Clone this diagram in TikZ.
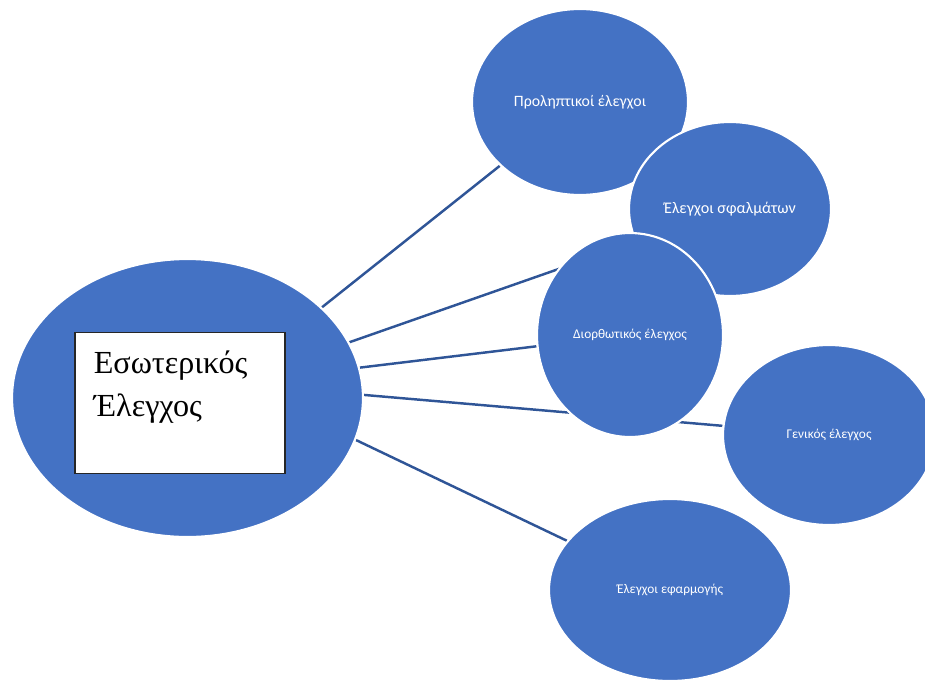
\documentclass[tikz,border=0pt]{standalone}
\usepackage{fontspec}
\setmainfont{Liberation Serif}
\newfontfamily\labelfont{Carlito}
\usetikzlibrary{shapes.geometric,backgrounds}
\definecolor{ovalblue}{HTML}{4472C4}
\definecolor{linkblue}{HTML}{2F5597}
\begin{document}
\begin{tikzpicture}[
    x=0.02cm, y=-0.02cm,
    oval/.style={ellipse, fill=ovalblue, draw=white, line width=1.2pt, inner sep=0pt, text=white, font=\labelfont},
    link/.style={linkblue, line width=1.4pt}
]
    \useasboundingbox (0,0) rectangle (925,679);

    % --- CENTRAL NODE ---
    \node[oval, minimum width=7.02cm, minimum height=5.56cm] (main) at (187.5,398) {};
    \node[draw=black!85, fill=white, line width=0.6pt, minimum width=4.2cm, minimum height=2.82cm] (box) at (180,403) {};
    \node[anchor=north west, align=left, inner sep=0pt, font=\fontsize{18.3}{24.5}\selectfont] (title) at ([xshift=0.38cm, yshift=-0.36cm]box.north west) {Εσωτερικός\\Έλεγχος};

    % --- SURROUNDING NODES ---
    \node[oval, minimum width=4.32cm, minimum height=3.72cm, font=\labelfont\fontsize{9}{11}\selectfont] (pro) at (580,102) {Προληπτικοί έλεγχοι};
    \node[oval, minimum width=4.04cm, minimum height=3.48cm, font=\labelfont\fontsize{9.2}{11}\selectfont] (sfal) at (730,209) {Έλεγχοι σφαλμάτων};
    \node[oval, minimum width=3.72cm, minimum height=4.08cm, font=\labelfont\fontsize{7.6}{9}\selectfont] (dio) at (630,335) {Διορθωτικός έλεγχος};
    \node[oval, minimum width=4.24cm, minimum height=3.6cm, font=\labelfont\fontsize{7.6}{9}\selectfont] (gen) at (829,435) {Γενικός έλεγχος};
    \node[oval, minimum width=4.84cm, minimum height=3.64cm, font=\labelfont\fontsize{7.6}{10}\selectfont] (efa) at (670,590) {Έλεγχοι εφαρμογής};

    % --- CONNECTORS (behind the ovals) ---
    \begin{pgfonlayer}{background}
        \draw[link] (main.34.5) -- (pro);
        \draw[link] (main.19.5) -- (sfal);
        \draw[link] (main.10.4) -- (dio);
        \draw[link] (main.1.3) -- (gen);
        \draw[link] (main.-14.6) -- (efa);
    \end{pgfonlayer}
\end{tikzpicture}
\end{document}
